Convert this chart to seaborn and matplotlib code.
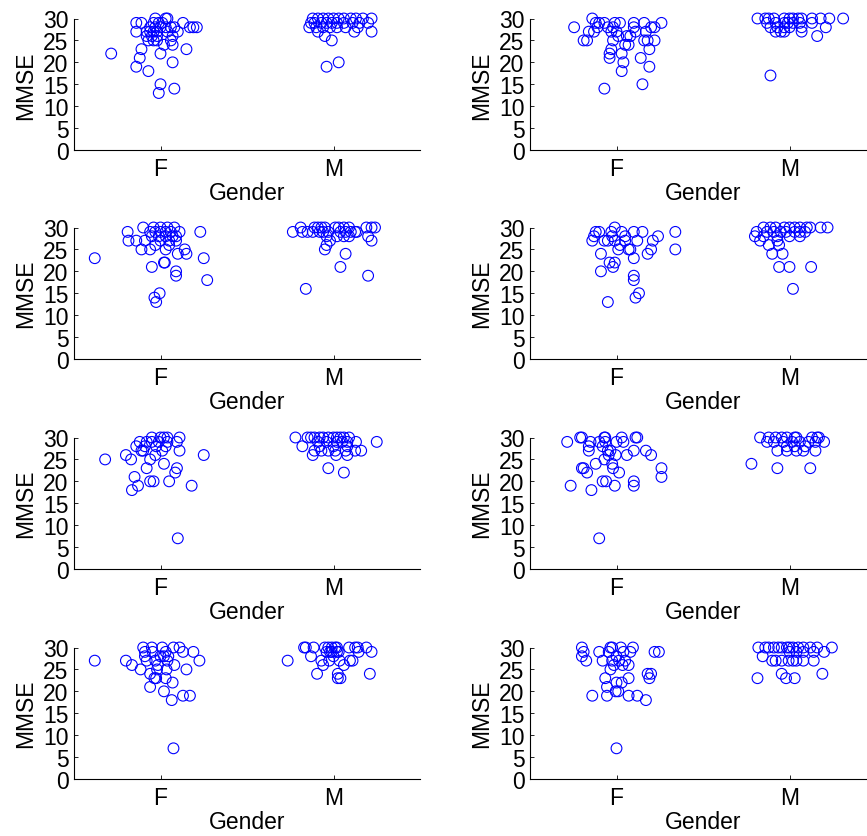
import numpy as np
import pandas as pd
import matplotlib
matplotlib.use('Agg')
import matplotlib.pyplot as plt
import seaborn as sns

# x tick labels / y ticks
gender_labels = ['F', 'M']
mmse_ticks = [0, 5, 10, 15, 20, 25, 30]

# per panel: jitter offsets around the group position and MMSE scores
p1_f_jit = [-0.285, -0.14, -0.11, -0.14, -0.11, -0.12, -0.14, -0.07, 0.0, 0.0, -0.01, 0.08, 0.07, 0.15, 0.07, 0.02,
            -0.03, 0.03, 0.04, 0.13, 0.10, 0.17, 0.19, 0.21, 0.06, 0.08, -0.08, -0.06, -0.04, -0.02, -0.08, -0.05,
            -0.02, -0.07, -0.04, -0.02, -0.04, -0.01, 0.01, -0.06, -0.03, 0.0, 0.03, 0.06, 0.07, 0.04]
p1_f_mmse = [22, 29, 29, 27, 23, 21, 19, 18, 22, 15, 13, 14, 20, 23, 24, 24,
             30, 30, 30, 29, 27, 28, 28, 28, 28, 28, 27, 27, 27, 27, 26, 26,
             26, 25, 25, 25, 29, 29, 29, 28, 28, 28, 28, 25, 26, 27]
p1_m_jit = [-0.12, -0.09, -0.06, -0.03, 0.0, 0.03, 0.06, 0.10, 0.13, 0.17, 0.22,
            -0.13, -0.11, -0.07, -0.04, -0.01, 0.02, 0.06, 0.11, 0.15, 0.20,
            -0.14, -0.10, -0.06, -0.02, 0.02, 0.07, 0.14, -0.09, 0.12, 0.22, -0.05, -0.01, -0.04, 0.03]
p1_m_mmse = [30, 30, 30, 30, 30, 30, 30, 30, 30, 30, 30,
             29, 29, 29, 29, 29, 29, 29, 29, 29, 29,
             28, 28, 28, 28, 28, 28, 28, 27, 27, 27, 26, 25, 19, 20]

p2_f_jit = [-0.245, -0.19, -0.17, -0.14, -0.16, -0.12, -0.10, -0.07, -0.13, -0.11, -0.07, -0.03, -0.04, -0.04, -0.02, -0.01,
            0.02, 0.0, 0.01, 0.03, 0.04, 0.03, 0.05, 0.07, 0.06, 0.08, 0.10, 0.10, 0.11, 0.14, 0.15, 0.16,
            0.16, 0.17, 0.19, 0.19, 0.20, 0.22, 0.22, 0.26, 0.18, -0.05, -0.03, -0.02]
p2_f_mmse = [28, 25, 25, 30, 27, 29, 29, 29, 27, 28, 14, 23, 22, 21, 25, 29,
             29, 27, 26, 22, 20, 18, 24, 24, 26, 26, 29, 28, 27, 21, 15, 29,
             25, 27, 23, 19, 28, 28, 25, 29, 25, 28, 27, 28]
p2_m_jit = [-0.185, -0.14, -0.12, -0.09, -0.11, -0.03, 0.0, 0.02, 0.05, 0.07, 0.13, 0.18, 0.23, 0.31,
            -0.13, -0.08, -0.03, -0.01, 0.02, 0.06, 0.13, -0.11, -0.07, -0.03, 0.0, 0.07, 0.21,
            -0.08, -0.05, -0.03, 0.07, 0.16]
p2_m_mmse = [30, 30, 30, 30, 17, 30, 30, 30, 30, 30, 30, 30, 30, 30,
             29, 29, 29, 29, 29, 29, 29, 28, 28, 28, 28, 28, 28,
             27, 27, 27, 27, 26]

p3_f_jit = [-0.38, -0.19, -0.10, -0.185, -0.14, -0.09, -0.11, -0.06, -0.03, -0.05, -0.035, -0.025, -0.005, 0.02, 0.03, 0.05,
            0.09, 0.09, 0.10, 0.14, 0.15, 0.23, 0.25, 0.27, -0.04, 0.0, 0.04, 0.08,
            -0.06, -0.03, 0.0, 0.03, 0.06, 0.11, -0.05, -0.01, 0.03, 0.07, 0.09, 0.0, 0.05, 0.09, 0.025]
p3_f_mmse = [23, 29, 30, 27, 27, 27, 25, 25, 26, 21, 14, 13, 15, 22, 25, 26,
             20, 19, 24, 25, 24, 29, 23, 18, 30, 30, 30, 30,
             29, 29, 29, 29, 29, 29, 28, 28, 28, 28, 28, 27, 27, 27, 22]
p3_m_jit = [-0.235, -0.19, -0.18, -0.16, -0.11, -0.09, -0.07, -0.05, 0.01, 0.03, 0.06, 0.09, 0.19, 0.22, 0.24,
            -0.15, -0.12, -0.08, -0.06, -0.03, 0.04, 0.07, 0.10, 0.125, 0.135,
            -0.04, 0.02, 0.06, 0.09, 0.20, -0.02, 0.22, -0.04, -0.05, 0.07, 0.04, 0.20]
p3_m_mmse = [29, 30, 29, 16, 30, 30, 30, 30, 30, 30, 30, 30, 30, 30, 30,
             29, 29, 29, 29, 29, 29, 29, 29, 29, 29,
             28, 28, 28, 28, 28, 27, 27, 26, 25, 24, 21, 19]

p4_f_jit = [-0.14, -0.13, -0.12, -0.10, -0.09, -0.09, -0.05, -0.04, -0.02, -0.01, -0.01, -0.03, -0.025, -0.05, -0.01, 0.01,
            0.02, 0.03, 0.05, 0.05, 0.07, 0.08, 0.10, 0.10, 0.10, 0.11, 0.13, 0.10, 0.12, 0.15, 0.18, 0.20,
            0.21, 0.24, 0.34, 0.34, -0.07]
p4_f_mmse = [27, 28, 29, 29, 24, 20, 13, 22, 21, 22, 30, 29, 28, 27, 27, 25,
             26, 29, 28, 27, 25, 25, 23, 19, 18, 14, 15, 29, 27, 29, 24, 25,
             27, 28, 29, 25, 27]
p4_m_jit = [-0.20, -0.19, -0.17, -0.15, -0.13, -0.12, -0.10, -0.06, -0.04, 0.0, 0.02, 0.125,
            -0.11, -0.08, -0.03, 0.0, 0.03, 0.06, 0.10, 0.12, 0.18, 0.22,
            -0.09, -0.05, -0.02, 0.03, 0.06, 0.09, -0.15, -0.07, 0.0, 0.06, -0.07, -0.06]
p4_m_mmse = [28, 29, 27, 30, 29, 26, 24, 21, 24, 21, 16, 21,
             30, 30, 30, 30, 30, 30, 30, 30, 30, 30,
             29, 29, 29, 29, 29, 29, 28, 28, 28, 28, 27, 26]

p5_f_jit = [-0.32, -0.20, -0.17, -0.165, -0.15, -0.13, -0.14, -0.12, -0.11, -0.10, -0.08, -0.06, -0.04, -0.06, -0.05, -0.05,
            -0.03, -0.025, 0.0, 0.02, 0.04, 0.01, 0.02, 0.05, 0.085, 0.095, 0.10, 0.11, 0.11, 0.095, 0.18, 0.25,
            -0.08, -0.01, 0.04, -0.09, 0.03]
p5_f_mmse = [25, 26, 25, 18, 21, 19, 28, 29, 27, 27, 23, 20, 20, 25, 30, 29,
             26, 28, 30, 30, 30, 27, 24, 20, 22, 23, 7, 30, 27, 29, 19, 26,
             29, 29, 29, 28, 28]
p5_m_jit = [-0.22, -0.18, -0.15, -0.13, -0.11, -0.08, -0.06, -0.03, 0.0, 0.02, 0.04, 0.06, 0.09,
            -0.09, -0.04, 0.02, 0.05, 0.08, 0.13, 0.25, -0.11, -0.07, -0.03, 0.01, 0.07, 0.125, 0.16,
            -0.12, 0.015, 0.08, -0.03, 0.06, -0.08, 0.0, 0.08]
p5_m_mmse = [30, 28, 30, 30, 30, 30, 30, 30, 30, 30, 30, 30, 30,
             29, 29, 29, 29, 29, 29, 29, 27, 27, 27, 27, 27, 27, 27,
             26, 26, 26, 23, 22, 28, 28, 28]

p6_f_jit = [-0.285, -0.265, -0.21, -0.20, -0.20, -0.19, -0.17, -0.16, -0.16, -0.15, -0.145, -0.12, -0.10, -0.10, -0.08, -0.07,
            -0.065, -0.065, -0.08, -0.06, -0.07, -0.05, -0.035, -0.045, -0.025, -0.02, -0.01, -0.005, 0.0, 0.015, 0.03, 0.04,
            0.06, 0.10, 0.10, 0.10, 0.11, 0.12, 0.17, 0.20, 0.26, 0.26]
p6_f_mmse = [29, 19, 30, 30, 23, 23, 22, 27, 28, 29, 18, 24, 7, 29, 28, 30,
             30, 29, 20, 20, 25, 27, 27, 26, 24, 23, 19, 26, 29, 22, 30, 29,
             26, 20, 19, 27, 30, 30, 27, 26, 23, 21]
p6_m_jit = [-0.22, -0.17, -0.13, -0.12, -0.07, -0.07, -0.08, -0.045, -0.015, 0.03, 0.04, 0.13, 0.16, 0.17,
            -0.09, -0.035, 0.015, 0.06, 0.11, 0.15, 0.20, -0.015, 0.04, 0.08, 0.15, -0.015, 0.03, 0.09, 0.12]
p6_m_mmse = [24, 30, 29, 30, 23, 27, 30, 30, 30, 30, 30, 30, 30, 30,
             29, 29, 29, 29, 29, 29, 29, 27, 27, 27, 27, 28, 28, 28, 23]

p7_f_jit = [-0.38, -0.20, -0.165, -0.115, -0.10, -0.09, -0.08, -0.06, -0.06, -0.05, -0.045, -0.035, -0.025, -0.02, -0.015, 0.0,
            0.01, 0.02, 0.03, 0.03, 0.035, 0.04, 0.065, 0.07, 0.075, 0.075, 0.08, 0.11, 0.13, 0.15, 0.13, 0.17,
            0.19, 0.225, -0.09, -0.03, 0.02, 0.045]
p7_f_mmse = [27, 27, 26, 25, 30, 28, 27, 21, 24, 30, 29, 23, 23, 25, 26, 28,
             30, 20, 29, 23, 25, 27, 18, 22, 7, 30, 26, 30, 29, 25, 19, 19,
             29, 27, 29, 27, 28, 28]
p7_m_jit = [-0.265, -0.17, -0.16, -0.115, -0.13, -0.095, -0.07, -0.06, -0.05, -0.03, -0.01, 0.01, 0.02, -0.04, -0.01, 0.02,
            -0.025, 0.025, 0.025, 0.04, 0.035, 0.06, 0.09, 0.125, 0.14, 0.19, 0.095, 0.11, 0.145, 0.22, 0.21,
            -0.02, 0.0, 0.03]
p7_m_mmse = [27, 30, 30, 30, 28, 24, 27, 26, 30, 30, 30, 30, 30, 29, 29, 29,
             27, 24, 23, 23, 27, 26, 30, 30, 30, 30, 27, 27, 29, 29, 24,
             29, 28, 29]

p8_f_jit = [-0.20, -0.19, -0.20, -0.175, -0.14, -0.10, -0.08, -0.065, -0.055, -0.055, -0.045, -0.035, -0.025, -0.035, -0.025, -0.005,
            0.01, 0.0, 0.0, 0.03, 0.0, 0.025, 0.04, 0.05, 0.07, 0.07, 0.07, 0.08, 0.095, 0.12, 0.17, 0.18,
            0.19, 0.20, 0.22, 0.245, -0.015, 0.035, 0.015]
p8_f_mmse = [30, 29, 28, 27, 19, 29, 27, 23, 21, 19, 29, 30, 30, 25, 27, 20,
             20, 7, 22, 22, 28, 30, 29, 27, 19, 23, 26, 29, 30, 19, 18, 24,
             23, 24, 29, 29, 26, 26, 27]
p8_m_jit = [-0.185, -0.18, -0.155, -0.14, -0.12, -0.09, -0.065, -0.045, -0.10, -0.08, -0.045, -0.02, -0.015, 0.0, 0.02, 0.05,
            0.08, 0.12, 0.16, 0.03, -0.045, -0.005, 0.02, 0.04, 0.0, 0.04, 0.08, 0.14, 0.08, 0.14, 0.19, 0.20, 0.245]
p8_m_mmse = [23, 30, 28, 30, 30, 30, 30, 30, 27, 27, 24, 23, 30, 30, 30, 30,
             30, 30, 30, 23, 27, 27, 27, 27, 29, 29, 29, 29, 27, 27, 24, 29, 30]

panels = [
    (p1_f_jit, p1_f_mmse, p1_m_jit, p1_m_mmse),
    (p2_f_jit, p2_f_mmse, p2_m_jit, p2_m_mmse),
    (p3_f_jit, p3_f_mmse, p3_m_jit, p3_m_mmse),
    (p4_f_jit, p4_f_mmse, p4_m_jit, p4_m_mmse),
    (p5_f_jit, p5_f_mmse, p5_m_jit, p5_m_mmse),
    (p6_f_jit, p6_f_mmse, p6_m_jit, p6_m_mmse),
    (p7_f_jit, p7_f_mmse, p7_m_jit, p7_m_mmse),
    (p8_f_jit, p8_f_mmse, p8_m_jit, p8_m_mmse),
]

sns.set_style('white')
plt.rcParams['font.family'] = ['Liberation Sans', 'DejaVu Sans']
plt.rcParams['text.color'] = 'black'
plt.rcParams['axes.labelcolor'] = 'black'

W, H = 867, 837
fig = plt.figure(figsize=(W / 100, H / 100), dpi=100)

# axes placement in pixels (left edge of each column, zero line of each row)
col_left = [74, 530]
row_zero = [151, 360, 570, 780]
ax_w, ax_h = 346, 131.5

for i, (fj, fy, mj, my) in enumerate(panels):
    r, c = divmod(i, 2)
    ax = fig.add_axes([col_left[c] / W, (H - row_zero[r]) / H, ax_w / W, ax_h / H])
    df = pd.DataFrame({
        'x': np.concatenate([1 + np.array(fj), 2 + np.array(mj)]),
        'MMSE': fy + my,
    })
    sns.scatterplot(data=df, x='x', y='MMSE', ax=ax, marker='o', s=60,
                    facecolors='none', edgecolor='#0000ff', linewidth=0.8,
                    clip_on=False)
    ax.set_xlim(0.5, 2.5)
    ax.set_ylim(0, 30)
    ax.set_xticks([1, 2], gender_labels)
    ax.set_yticks(mmse_ticks)
    ax.set_xlabel('Gender', fontsize=16.5, labelpad=1, color='black')
    ax.set_ylabel('MMSE', fontsize=16.5, labelpad=4, color='black')
    ax.tick_params(axis='both', direction='in', length=3, width=0.6,
                   labelsize=16.5, colors='black', bottom=True, left=True)
    ax.tick_params(axis='x', pad=5)
    ax.tick_params(axis='y', pad=4)
    sns.despine(ax=ax)
    for s in ['left', 'bottom']:
        ax.spines[s].set_linewidth(0.8)
        ax.spines[s].set_color('black')

fig.savefig('out.png', dpi=100)
